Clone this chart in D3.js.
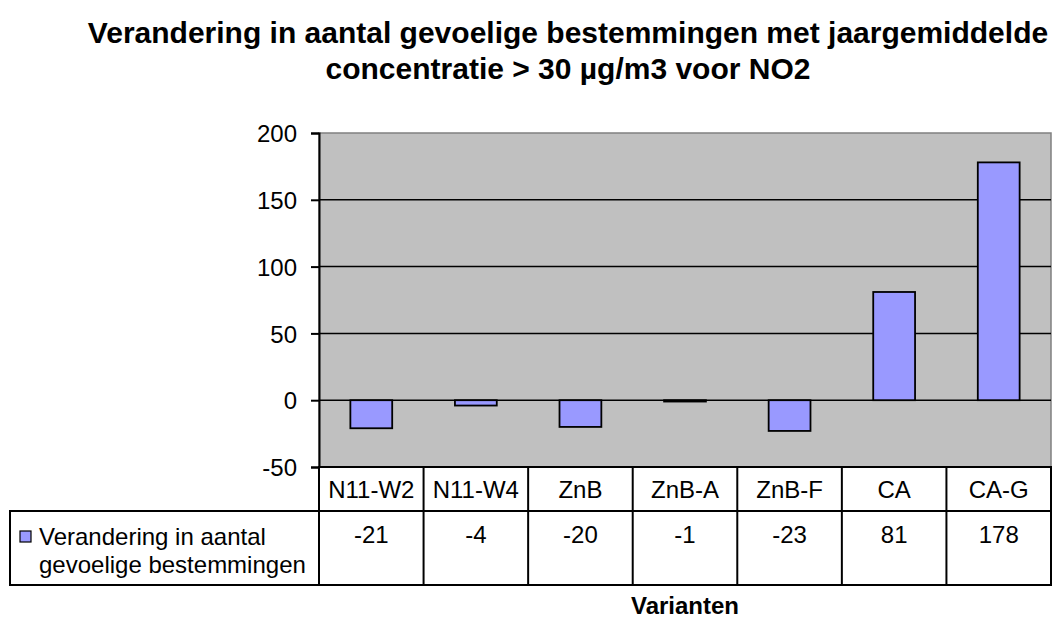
<!DOCTYPE html>
<html>
<head>
<meta charset="utf-8">
<script src="https://cdn.jsdelivr.net/npm/d3@7"></script>
<style>
  body { margin: 0; background: #fff; }
  text { font-family: "Liberation Sans", Arial, sans-serif; fill: #000; }
</style>
</head>
<body>
<div class="chart"></div>
<script>
// chart data
var categories = ["N11-W2", "N11-W4", "ZnB", "ZnB-A", "ZnB-F", "CA", "CA-G"];
var values = [-21, -4, -20, -1, -23, 81, 178];
var yTicks = [-50, 0, 50, 100, 150, 200];
var seriesName = ["Verandering in aantal", "gevoelige bestemmingen"];
var titleLines = ["Verandering in aantal gevoelige bestemmingen met jaargemiddelde",
                  "concentratie > 30 µg/m3 voor NO2"];
var xTitle = "Varianten";

var svgWidth = 1058;
var svgHeight = 618;

var plot = { left: 319, right: 1051, top: 133, bottom: 467 };
var width = plot.right - plot.left;
var height = plot.bottom - plot.top;

var svg = d3.select(".chart")
  .append("svg")
  .attr("width", svgWidth)
  .attr("height", svgHeight);

var chartGroup = svg.append("g")
  .attr("transform", `translate(${plot.left}, ${plot.top})`);

// scales
var xBandScale = d3.scaleBand()
  .domain(categories)
  .range([0, width])
  .paddingInner(0)
  .paddingOuter(0);

var barScale = d3.scaleBand()
  .domain(categories)
  .range([0, width])
  .paddingInner(0.6)
  .paddingOuter(0.3);

var yLinearScale = d3.scaleLinear()
  .domain([-50, 200])
  .range([height, 0]);

// plot background
chartGroup.append("rect")
  .attr("width", width)
  .attr("height", height)
  .attr("fill", "#c0c0c0")
  .attr("stroke", "#808080")
  .attr("stroke-width", 1.5);

// gridlines
chartGroup.selectAll(".grid")
  .data(yTicks.filter(d => d > -50 && d < 200))
  .enter()
  .append("line")
  .attr("x1", 0)
  .attr("x2", width)
  .attr("y1", d => yLinearScale(d))
  .attr("y2", d => yLinearScale(d))
  .attr("stroke", "#000")
  .attr("stroke-width", 1.5);

// bars
chartGroup.selectAll(".bar")
  .data(values)
  .enter()
  .append("rect")
  .attr("x", (d, i) => barScale(categories[i]))
  .attr("width", barScale.bandwidth())
  .attr("y", d => yLinearScale(Math.max(0, d)))
  .attr("height", d => Math.abs(yLinearScale(d) - yLinearScale(0)))
  .attr("fill", "#9999ff")
  .attr("stroke", "#000")
  .attr("stroke-width", 1.8);

// left axis
var leftAxis = d3.axisLeft(yLinearScale)
  .tickValues(yTicks)
  .tickFormat(d => String(d))
  .tickSize(8)
  .tickPadding(14);

var yAxis = chartGroup.append("g").call(leftAxis);
yAxis.select(".domain").attr("stroke", "#000").attr("stroke-width", 2);
yAxis.selectAll(".tick line").attr("stroke", "#000").attr("stroke-width", 2);
yAxis.selectAll(".tick text")
  .attr("font-size", "24px")
  .attr("font-family", "Liberation Sans, Arial, sans-serif")
  .attr("fill", "#000")
  .attr("dy", "0.36em");

// data table
var row1Top = height;
var row1Bottom = 511 - plot.top;
var row2Bottom = 585 - plot.top;
var legendLeft = 10 - plot.left;

var tableGroup = chartGroup.append("g");

tableGroup.append("rect")
  .attr("x", 0)
  .attr("y", row1Top)
  .attr("width", width)
  .attr("height", row1Bottom - row1Top)
  .attr("fill", "#fff");

tableGroup.append("rect")
  .attr("x", legendLeft)
  .attr("y", row1Bottom)
  .attr("width", width - legendLeft)
  .attr("height", row2Bottom - row1Bottom)
  .attr("fill", "#fff");

var lineStyle = function(sel) {
  sel.attr("stroke", "#000").attr("stroke-width", 2).attr("stroke-linecap", "square");
};

// horizontal table lines
tableGroup.append("line").attr("x1", 0).attr("x2", width)
  .attr("y1", row1Top).attr("y2", row1Top).call(lineStyle);
tableGroup.append("line").attr("x1", legendLeft).attr("x2", width)
  .attr("y1", row1Bottom).attr("y2", row1Bottom).call(lineStyle);
tableGroup.append("line").attr("x1", legendLeft).attr("x2", width)
  .attr("y1", row2Bottom).attr("y2", row2Bottom).call(lineStyle);

// vertical table lines
tableGroup.selectAll(".vline")
  .data(categories.concat(["end"]))
  .enter()
  .append("line")
  .attr("x1", (d, i) => i < categories.length ? xBandScale(d) : width)
  .attr("x2", (d, i) => i < categories.length ? xBandScale(d) : width)
  .attr("y1", row1Top)
  .attr("y2", row2Bottom)
  .call(lineStyle);

tableGroup.append("line").attr("x1", legendLeft).attr("x2", legendLeft)
  .attr("y1", row1Bottom).attr("y2", row2Bottom).call(lineStyle);

// category labels
tableGroup.selectAll(".cat")
  .data(categories)
  .enter()
  .append("text")
  .attr("x", d => xBandScale(d) + xBandScale.bandwidth() / 2)
  .attr("y", 498 - plot.top)
  .attr("text-anchor", "middle")
  .attr("font-size", "24px")
  .text(d => d);

// values
tableGroup.selectAll(".val")
  .data(values)
  .enter()
  .append("text")
  .attr("x", (d, i) => xBandScale(categories[i]) + xBandScale.bandwidth() / 2)
  .attr("y", 543 - plot.top)
  .attr("text-anchor", "middle")
  .attr("font-size", "24px")
  .text(d => d);

// legend key + series name
tableGroup.append("rect")
  .attr("x", 20 - plot.left)
  .attr("y", 531 - plot.top)
  .attr("width", 11)
  .attr("height", 11)
  .attr("fill", "#9999ff")
  .attr("stroke", "#000")
  .attr("stroke-width", 1.2);

tableGroup.selectAll(".legend")
  .data(seriesName)
  .enter()
  .append("text")
  .attr("x", 39 - plot.left)
  .attr("y", (d, i) => 545 - plot.top + i * 28)
  .attr("font-size", "24px")
  .text(d => d);

// title
svg.selectAll(".title")
  .data(titleLines)
  .enter()
  .append("text")
  .attr("x", 568)
  .attr("y", (d, i) => 43 + i * 36)
  .attr("text-anchor", "middle")
  .attr("font-size", "30px")
  .attr("font-weight", "bold")
  .text(d => d);

// x axis title
svg.append("text")
  .attr("x", (plot.left + plot.right) / 2)
  .attr("y", 614)
  .attr("text-anchor", "middle")
  .attr("font-size", "24px")
  .attr("font-weight", "bold")
  .text(xTitle);
</script>
</body>
</html>
